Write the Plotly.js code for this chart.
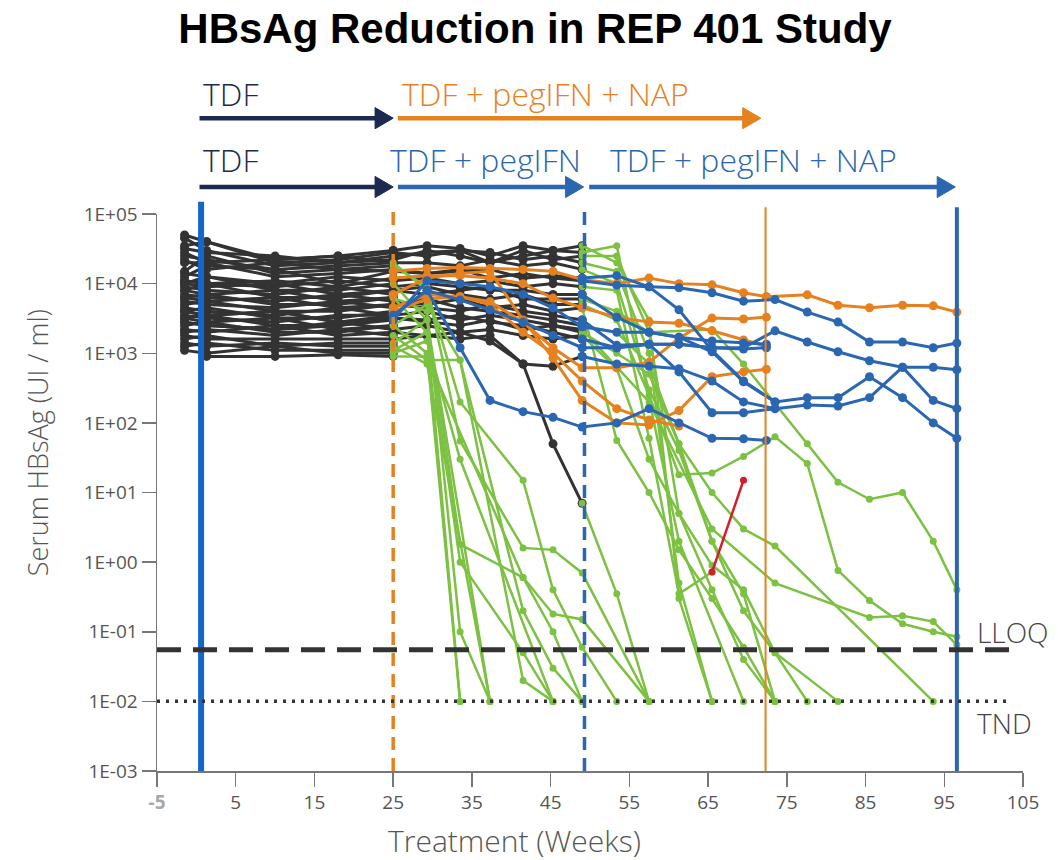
<!DOCTYPE html>
<html><head><meta charset="utf-8">
<script src="https://cdn.plot.ly/plotly-3.0.1.min.js"></script>
<style>html,body{margin:0;padding:0;background:#fff}</style>
</head><body><div id="chart" style="width:1058px;height:860px"></div>
<script>
// ---------- sampling schedules (weeks) ----------
const weeksLead = [-1.5, 1.3, 10, 18, 25];
const weeksPeg = [25, 29.3, 33.5, 37.3, 41.5, 45.3, 49];
const weeksArmA = [25, 29.3, 33.5, 37.3, 41.5, 45.3, 49, 53.4, 57.5, 61.3, 65.5, 69.5, 72.4];
const weeksArmB = [49, 53.4, 57.5, 61.3, 65.5, 69.5, 73.5, 77.6, 81.5, 85.5, 89.7, 93.6, 96.6];
const weeksFollowUp = [72.4, 77.6, 81.5, 85.5, 89.7, 93.6, 96.6];
const weeksFlare = [65.5, 69.5];

// ---------- phase boundaries & thresholds ----------
const phaseWeeks = {start: 0.6, pegA: 25, napB: 49.3, endA: 72.3, endB: 96.6};
const lloq = 0.055;
const tnd = 0.01;

// ---------- TDF lead-in (all patients, IU/mL) ----------
const leadIn = [
  [50000, 40000, 22000, 25000, 30000],
  [35000, 40000, 20000, 22000, 28000],
  [32000, 28000, 25000, 20000, 22000],
  [25000, 22000, 16000, 18000, 20000],
  [20000, 20000, 12600, 14000, 16000],
  [14000, 12600, 10000, 12600, 11000],
  [11000, 10000, 9000, 11000, 9000],
  [10000, 9000, 10000, 7000, 8000],
  [8000, 10000, 6300, 6300, 8000],
  [7000, 6300, 5600, 7000, 5600],
  [6300, 5600, 6300, 4500, 5000],
  [5000, 5600, 4000, 4000, 5000],
  [4500, 4000, 3500, 4500, 3500],
  [4000, 3500, 4000, 2800, 3200],
  [3200, 3500, 2500, 2500, 3200],
  [2800, 2500, 2200, 2800, 2200],
  [2200, 2000, 2500, 1800, 2000],
  [1800, 1600, 1600, 1600, 1600],
  [45000, 30000, 18000, 20000, 25000],
  [15000, 25000, 14000, 16000, 15000],
  [12600, 18000, 16000, 10000, 15000],
  [11000, 10000, 11000, 9000, 12000],
  [5600, 5000, 4500, 5600, 4500],
  [9000, 8000, 7000, 9000, 7000],
  [4000, 4500, 3200, 3200, 4000],
  [3500, 3200, 2800, 3500, 3500],
  [4000, 3500, 4000, 2800, 3500],
  [2800, 2500, 2200, 2500, 3000],
  [28000, 20000, 22000, 25000, 20000],
  [22000, 16000, 20000, 16000, 18000],
  [10000, 12600, 8000, 8000, 10000],
  [8000, 7000, 8000, 5600, 6300],
  [6300, 7000, 5000, 5000, 6300],
  [3200, 2800, 3200, 2200, 2500],
  [2500, 2800, 2000, 2000, 2500],
  [2000, 2200, 1800, 2200, 1800],
  [1600, 1800, 1260, 1400, 1400],
  [1400, 1260, 1400, 1260, 1260],
  [1260, 1400, 1100, 1100, 1100],
  [null, 900, 900, 950, 900],
  [1100, 1000, 1260, 1000, 1000]
];

// ---------- arm B: TDF + pegIFN phase (weeks 25-49) ----------
const armBPeg = [
  [30000, 35000, 32000, 25000, 35000, 30000, 28000],
  [28000, 25000, 30000, 28000, 22000, 25000, 20000],
  [22000, 30000, 25000, 20000, 30000, 22000, 25000],
  [20000, 20000, 18000, 22000, 18000, 20000, 16000],
  [16000, 14000, 16000, 12000, 14000, 12000, 11000],
  [11000, 12000, 10000, 11000, 9000, 10000, 9000],
  [9000, 10000, 9000, 8000, 8000, 7000, 7000],
  [8000, 7000, 8000, 9000, 6000, 6000, 6000],
  [8000, 9000, 7000, 6000, 7000, 5000, 5000],
  [5600, 5000, 6000, 4500, 5000, 4000, 4500],
  [5000, 4500, 4000, 5000, 4000, 3500, 3000],
  [5000, 6000, 4500, 4000, 3500, 3000, 2500],
  [3500, 4000, 3000, 3500, 3000, 2500, 2000],
  [3200, 3000, 3500, 2800, 2500, 2000, 1600],
  [3200, 2800, 2500, 3000, 2200, 2500, 2200],
  [2200, 2500, 2000, 2200, 1800, 1600, 1800],
  [2000, 1800, 1600, 1800, 700, 50, 7],
  [1600, 1800, 2000, 1500, 700, 650, 900],
  [25000, 28000, 30000, 20000, 25000, 30000, 35000],
  [15000, 14000, 15000, 16000, 12000, 13000, 12000]
];

// ---------- arm B: after NAP start (weeks 49-96.6) ----------
const armBNonResp = [
  [11000, 9500, 9000, 8700, 7400, 5600, 5900, 3900, 2800, 1450, 1450, 1200, 1400],
  [7000, 3300, 2000, 1700, 1050, 390, 200, 230, 230, 460, 230, 100, 60],
  [3000, 1300, 1350, 540, 140, 140, 160, 180, 175, 230, 630, 210, 160],
  [1600, 1200, 1350, 1350, 1200, 1200, 2100, 1450, 1050, 780, 630, 630, 580],
  [900, 700, 650, 600, 400, 200, 160],
  [12000, 13000, 9000, 4200, 1100, 400, 200]
];
const armBResp = [
  [28000, 35000, null, 2, null, 0.01],
  [20000, 15000, 1000, 0.5, 0.01],
  [25000, 25000, 2000, 5, 0.4, 0.04, 0.01],
  [16000, 10000, 300, 40, 2, 0.35, 0.01],
  [9000, 8000, 60, 0.35, 0.72],
  [6000, 4000, 2000, null, 2200, 700, null, 50, 14, 8, 10, 2, 0.4],
  [5000, 3000, 250, 18, 19, 33, 63, 26, 0.76, 0.28, 0.13, 0.1, 0.085],
  [4500, 56, 10, 1.5, 0.3, 0.06, 0.01],
  [2500, 2000, 700, 50, 2, 0.2, 0.05, 0.01],
  [2000, 1000, 500, 50, 10, 3, 1.7, null, null, null, null, 0.01],
  [2200, null, 200, null, 3, null, 0.5, null, null, 0.16, 0.17, 0.14, 0.065],
  [1800, 600, 30, 5, 0.9, 0.4, 0.05, null, 0.01],
  [7, 0.35, 0.01],
  [35000, 20000, 3000, 0.3, 0.01]
];
const flare = [0.72, 15];

// ---------- arm A: TDF + pegIFN + NAP (weeks 25-72) ----------
const armAOrange = [
  [15000, 16500, 17000, 16500, 16000, 15000, 11500, 10000, 12000, 10000, 9600, 7400, 6500],
  [12000, 13000, 13000, 12000, 10000, 6200, 4500, 3300, 2800, 2700, 2100, 1550, 1260],
  [4500, 6900, 6500, 5500, 2800, 1200, 620, 620, 740, 1650, 3200, 3100, 3300],
  [7000, 12000, 14000, 15000, 3000, 850, 210, 100, 93, 150, 460, 540, 590],
  [4000, 6000, 6500, 5000, 2000, 1000, 400, 160, 110, 90]
];
const armAOrangeFollowUp = [6500, 6900, 4900, 4500, 4900, 4800, 3900];
const armABlue = [
  [3500, 8000, 1200, 210, 145, 120, 87, 100, 160, 100, 60, 59, 56],
  [3500, 8000, 5800, 4200, 2800, 1800, 1200, 1200, 1350, 1350, 1200, 1150, 1200],
  [3000, 11000, 10000, 9000, 7000, 4500, 2400, 2000, 2000, 1700, 1500, 1400, 1350]
];
const armAResp = [
  [20000, 8000, 200, null, 15, 0.4, 0.06, 0.01],
  [18000, 9000, 55, null, 1.6, 1.5, 0.7, null, 0.01],
  [10000, 3000, 1.8, null, 0.6, 0.18, 0.15, null, 0.01],
  [6300, 2000, 1.0, null, 0.05, 0.01],
  [6300, 4000, 0.1, 0.01],
  [2500, 1000, 0.01],
  [2500, 5000, 800, null, 0.2, 0.03, 0.01],
  [1800, 800, 800, null, 0.02, 0.01],
  [1400, 3000, null, 0.01],
  [1260, 700, null, 0.01],
  [1100, 2000, 0.01],
  [900, 900, null, null, 0.6, 0.1, 0.01],
  [1000, 1500, 30, null, null, 0.01]
];

// ---------- axis ticks ----------
const xTicks = [-5, 5, 15, 25, 35, 45, 55, 65, 75, 85, 95, 105];
const xTickText = ["<b><span style='color:#a8a8a8'>-5</span></b>", "5", "15", "25", "35", "45", "55", "65", "75", "85", "95", "105"];
const yTicks = [1e-3, 1e-2, 1e-1, 1, 10, 100, 1000, 10000, 100000];
const yTickText = ["1E-03", "1E-02", "1E-01", "1E+00", "1E+01", "1E+02", "1E+03", "1E+04", "1E+05"];

// ---------- colours ----------
const C = {black: '#333333', green: '#7cc142', orange: '#e6811f', blue: '#2b66b1', red: '#d21f2b', navy: '#1b2a4e', vblue: '#1466c8'};

const traces = [];
function add(xs, ys, color, lw, ms) {
  traces.push({
    type: 'scatter', mode: 'lines+markers', x: xs.slice(0, ys.length), y: ys,
    connectgaps: true, hoverinfo: 'skip', showlegend: false,
    line: {color: color, width: lw}, marker: {color: color, size: ms}
  });
}
leadIn.forEach(v => add(weeksLead, v, C.black, 3, 9));
armBPeg.forEach(v => add(weeksPeg, v, C.black, 3, 9));
armAResp.forEach(v => add(weeksArmA, v, C.green, 2.5, 7));
armBResp.forEach(v => add(weeksArmB, v, C.green, 2.5, 7));
armAOrange.forEach(v => add(weeksArmA, v, C.orange, 3, 9));
add(weeksFollowUp, armAOrangeFollowUp, C.orange, 3, 9);
armABlue.forEach(v => add(weeksArmA, v, C.blue, 3, 9));
armBNonResp.forEach(v => add(weeksArmB, v, C.blue, 3, 9));
add(weeksFlare, flare, C.red, 2.5, 7);

// ---------- shapes ----------
const shapes = [];
function vline(x, color, width, dash, top) {
  shapes.push({type: 'line', xref: 'x', yref: 'paper', x0: x, x1: x, y0: 0, y1: top,
    line: {color: color, width: width, dash: dash}, layer: 'above'});
}
vline(phaseWeeks.start, C.vblue, 6, 'solid', 1.022);
vline(phaseWeeks.pegA, C.orange, 3.5, '13px,8px', 1.012);
vline(phaseWeeks.napB, C.blue, 3.5, '13px,8px', 1.012);
vline(phaseWeeks.endA, C.orange, 2, 'solid', 1.012);
vline(phaseWeeks.endB, C.blue, 4, 'solid', 1.012);
shapes.push({type: 'line', xref: 'paper', yref: 'y', x0: 0, x1: 0.985, y0: lloq, y1: lloq,
  line: {color: '#333', width: 5, dash: '24px,12px'}, layer: 'above'});
shapes.push({type: 'line', xref: 'paper', yref: 'y', x0: 0, x1: 0.985, y0: tnd, y1: tnd,
  line: {color: '#333', width: 3.5, dash: '3px,6px'}, layer: 'above'});

// phase arrows (x in weeks, y in paper units above the plot)
function arrow(x0, x1, y, color) {
  const hl = 2.3, hh = 0.019;
  shapes.push({type: 'line', xref: 'x', yref: 'paper', x0: x0, x1: x1 - hl + 0.2, y0: y, y1: y,
    line: {color: color, width: 4.5}});
  shapes.push({type: 'path', xref: 'x', yref: 'paper',
    path: `M ${x1 - hl},${y - hh} L ${x1},${y} L ${x1 - hl},${y + hh} Z`,
    fillcolor: color, line: {color: color, width: 1}});
}
const yRow1 = 1.172, yRow2 = 1.0485;
arrow(0.4, 25, yRow1, C.navy);
arrow(25.6, 71.7, yRow1, C.orange);
arrow(0.4, 25, yRow2, C.navy);
arrow(25.6, 49.2, yRow2, C.blue);
arrow(49.9, 96.4, yRow2, C.blue);

// ---------- annotations ----------
const labFont = (c, s) => ({family: 'Open Sans, sans-serif', size: s, color: c, weight: 300});
const annotations = [
  {text: 'TDF', x: 0.6, xref: 'x', xanchor: 'left', y: 1.217, yref: 'paper', yanchor: 'middle', showarrow: false, font: labFont(C.navy, 32)},
  {text: 'TDF + pegIFN + NAP', x: 25.9, xref: 'x', xanchor: 'left', y: 1.217, yref: 'paper', yanchor: 'middle', showarrow: false, font: labFont(C.orange, 32)},
  {text: 'TDF', x: 0.6, xref: 'x', xanchor: 'left', y: 1.097, yref: 'paper', yanchor: 'middle', showarrow: false, font: labFont(C.navy, 32)},
  {text: 'TDF + pegIFN', x: 24.3, xref: 'x', xanchor: 'left', y: 1.097, yref: 'paper', yanchor: 'middle', showarrow: false, font: labFont(C.blue, 32)},
  {text: 'TDF + pegIFN + NAP', x: 52.3, xref: 'x', xanchor: 'left', y: 1.097, yref: 'paper', yanchor: 'middle', showarrow: false, font: labFont(C.blue, 32)},
  {text: 'LLOQ', x: 0.944, xref: 'paper', xanchor: 'left', y: 0.249, yref: 'paper', yanchor: 'middle', showarrow: false, font: labFont('#444', 28)},
  {text: 'TND', x: 0.944, xref: 'paper', xanchor: 'left', y: 0.087, yref: 'paper', yanchor: 'middle', showarrow: false, font: labFont('#444', 28)},
  {text: 'Serum HBsAg (UI / ml)', x: -0.137, xref: 'paper', xanchor: 'center', y: 0.589, yref: 'paper', yanchor: 'middle', textangle: -90, showarrow: false, font: labFont('#555', 27)},
  {text: 'Treatment (Weeks)', x: 0.413, xref: 'paper', xanchor: 'center', y: -0.124, yref: 'paper', yanchor: 'middle', showarrow: false, font: labFont('#555', 30)}
];

const layout = {
  width: 1058, height: 860,
  margin: {l: 157, r: 35, t: 214, b: 89},
  paper_bgcolor: '#fff', plot_bgcolor: '#fff',
  title: {text: '<b>HBsAg Reduction in REP 401 Study</b>', x: 0.4365, xanchor: 'center', xref: 'paper', y: 0.967, yanchor: 'middle',
    font: {family: 'Liberation Sans, Arial, sans-serif', size: 42, color: '#000'}},
  showlegend: false,
  xaxis: {range: [-5, 105], tickmode: 'array', tickvals: xTicks, ticktext: xTickText,
    showgrid: false, zeroline: false, showline: true, linecolor: '#777', linewidth: 1.5,
    ticks: 'outside', ticklen: 14, tickcolor: '#777', tickwidth: 1.5,
    tickfont: {family: 'Open Sans, sans-serif', size: 19, color: '#555'}},
  yaxis: {type: 'log', range: [-3, 5], tickmode: 'array', tickvals: yTicks, ticktext: yTickText,
    showgrid: false, zeroline: false, showline: true, linecolor: '#777', linewidth: 1.5,
    ticks: 'outside', ticklen: 14, tickcolor: '#777', tickwidth: 1.5,
    tickfont: {family: 'Open Sans, sans-serif', size: 19, color: '#555'}},
  shapes: shapes,
  annotations: annotations
};
Plotly.newPlot('chart', traces, layout, {displayModeBar: false, staticPlot: true});
</script>
</body></html>
